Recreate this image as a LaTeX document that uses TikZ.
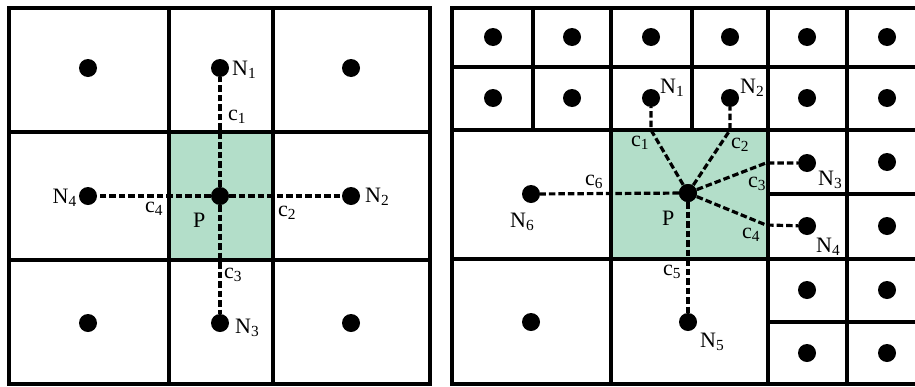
\documentclass[tikz,border=0pt]{standalone}
\usepackage{fontspec}
\setmainfont{Liberation Serif}
\definecolor{cellgreen}{RGB}{179,222,201}
\tikzset{
  grid/.style={line width=3.3pt, line cap=rect},
  dot/.style={circle, fill=black, inner sep=0pt, minimum size=18pt},
  link/.style={line width=3.2pt, dash pattern=on 6.5pt off 3pt},
  lab/.style={inner sep=0pt, font=\fontsize{22}{26}\selectfont},
}
\newcommand{\sub}[2]{#1\textsubscript{#2}}
\begin{document}
\begin{tikzpicture}[x=1pt,y=-1pt]
\useasboundingbox (0,0) rectangle (915,386);
% ---------- left panel ----------
\fill[cellgreen] (169,132) rectangle (273,260);
\draw[grid] (9,8) rectangle (430,384);
\draw[grid] (169,8) -- (169,384);
\draw[grid] (273,8) -- (273,384);
\draw[grid] (9,132) -- (430,132);
\draw[grid] (9,260) -- (430,260);
\node[dot] (LA) at (88,68) {};
\node[dot] (LN1) at (220,68) {};
\node[dot] (LB) at (351,68) {};
\node[dot] (LN4) at (88,196) {};
\node[dot] (LP) at (220,196) {};
\node[dot] (LN2) at (351,196) {};
\node[dot] (LC) at (88,323) {};
\node[dot] (LN3) at (220,323) {};
\node[dot] (LD) at (351,323) {};
\draw[link] (LP) -- (LN1);
\draw[link] (LP) -- (LN2);
\draw[link] (LP) -- (LN3);
\draw[link] (LP) -- (LN4);
\node[lab, anchor=base west] (tLN1) at (232,75) {\sub{N}{1}};
\node[lab, anchor=base west] (tLc1) at (228,120) {\sub{c}{1}};
\node[lab, anchor=base east] (tLN4) at (77,203) {\sub{N}{4}};
\node[lab, anchor=base west] (tLc4) at (145,212) {\sub{c}{4}};
\node[lab, anchor=base west] (tLP) at (193,227) {P};
\node[lab, anchor=base west] (tLc2) at (278,216) {\sub{c}{2}};
\node[lab, anchor=base west] (tLN2) at (365,202) {\sub{N}{2}};
\node[lab, anchor=base west] (tLc3) at (224,278) {\sub{c}{3}};
\node[lab, anchor=base west] (tLN3) at (235,333) {\sub{N}{3}};
% ---------- right panel ----------
\fill[cellgreen] (611,130) rectangle (768,259);
\draw[grid] (918,8) -- (452,8) -- (452,384) -- (918,384);
\draw[grid] (452,67) -- (918,67);
\draw[grid] (452,130) -- (918,130);
\draw[grid] (452,259) -- (918,259);
\draw[grid] (768,194) -- (918,194);
\draw[grid] (768,322) -- (918,322);
\draw[grid] (533,8) -- (533,130);
\draw[grid] (692,8) -- (692,130);
\draw[grid] (611,8) -- (611,384);
\draw[grid] (768,8) -- (768,384);
\draw[grid] (847,8) -- (847,384);
% top rows
\foreach \i/\x in {1/493,2/572,3/651,4/730,5/807,6/887}{
  \node[dot] (RT\i) at (\x,37) {};
}
\node[dot] (RS1) at (493,98) {};
\node[dot] (RS2) at (572,98) {};
\node[dot] (RN1) at (651,98) {};
\node[dot] (RN2) at (730,98) {};
\node[dot] (RS5) at (807,98) {};
\node[dot] (RS6) at (887,98) {};
% right small cells
\node[dot] (RN3) at (807,163) {};
\node[dot] (RR3) at (887,162) {};
\node[dot] (RN4) at (807,226) {};
\node[dot] (RR4) at (887,226) {};
\node[dot] (RR5a) at (807,290) {};
\node[dot] (RR5b) at (887,290) {};
\node[dot] (RR6a) at (807,353) {};
\node[dot] (RR6b) at (887,353) {};
% big cells
\node[dot] (RN6) at (531,194) {};
\node[dot] (RP) at (688,193) {};
\node[dot] (RBL) at (531,322) {};
\node[dot] (RN5) at (688,322) {};
% connectors
\coordinate (b1) at (651,130);
\coordinate (b2) at (730,130);
\coordinate (b3) at (766,163);
\coordinate (b4) at (766,225);
\draw[link] (RP.center) -- (b1) -- (RN1);
\draw[link] (RP.center) -- (b2) -- (RN2);
\draw[link] (RP.center) -- (b3) -- (RN3);
\draw[link] (RP.center) -- (b4) -- (RN4);
\draw[link] (RP) -- (RN5);
\draw[link] (RP) -- (RN6);
\node[dot] at (RP) {};
% labels
\node[lab, anchor=base west] (tRN1) at (660,93) {\sub{N}{1}};
\node[lab, anchor=base west] (tRN2) at (740,93) {\sub{N}{2}};
\node[lab, anchor=base west] (tRc1) at (631,146) {\sub{c}{1}};
\node[lab, anchor=base west] (tRc2) at (731,148) {\sub{c}{2}};
\node[lab, anchor=base west] (tRc6) at (585,185) {\sub{c}{6}};
\node[lab, anchor=base west] (tRc3) at (748,187) {\sub{c}{3}};
\node[lab, anchor=base west] (tRN3) at (818,185) {\sub{N}{3}};
\node[lab, anchor=base west] (tRc4) at (742,238) {\sub{c}{4}};
\node[lab, anchor=base west] (tRN4) at (816,252) {\sub{N}{4}};
\node[lab, anchor=base west] (tRP) at (662,225) {P};
\node[lab, anchor=base west] (tRN6) at (510,227) {\sub{N}{6}};
\node[lab, anchor=base west] (tRc5) at (663,275) {\sub{c}{5}};
\node[lab, anchor=base west] (tRN5) at (700,347) {\sub{N}{5}};
\end{tikzpicture}
\end{document}
